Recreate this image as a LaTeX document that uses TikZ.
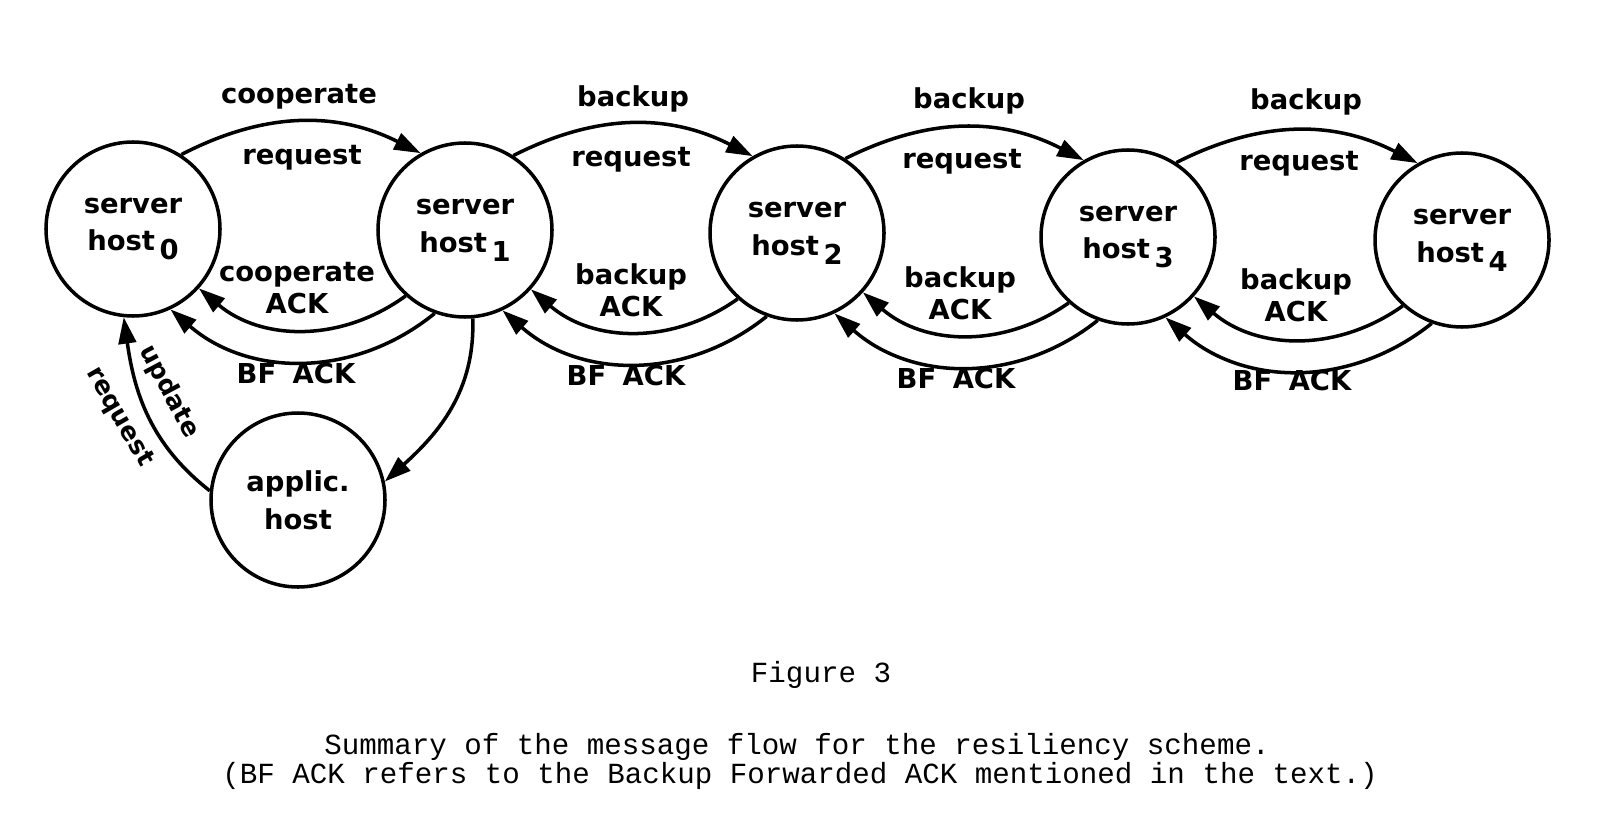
\documentclass[tikz,border=0pt]{standalone}
\usepackage{fontspec}
\setsansfont{DejaVu Sans}
\setmonofont{Liberation Mono}
\usetikzlibrary{arrows.meta}
\tikzset{
    host/.style={circle, draw, line width=1pt, minimum size=1.74cm,
                 inner sep=0pt, align=center,
                 font=\sffamily\bfseries\fontsize{7.8}{10.8}\selectfont},
    flow/.style={-{Triangle[length=7.5pt,width=5pt]}, line width=1pt},
    msg/.style={font=\sffamily\bfseries\fontsize{7.8}{9}\selectfont,
                align=center, inner sep=0pt},
    slant/.style={msg, font=\sffamily\bfseries\fontsize{7.2}{9}\selectfont},
    caption/.style={font=\ttfamily\fontsize{8.3}{10}\selectfont, inner sep=0pt},
}
\newcommand{\hostno}[1]{\,\raisebox{-0.6ex}{#1}}

\begin{document}
\begin{tikzpicture}

    \useasboundingbox (0,0) rectangle (16,-8.26);

    % hosts
    \node[host] (host0) at (1.33,-2.29) {server\\host\hostno{0}};
    \node[host] (host1) at (4.65,-2.30) {server\\host\hostno{1}};
    \node[host] (host2) at (7.97,-2.33) {server\\host\hostno{2}};
    \node[host] (host3) at (11.28,-2.37) {server\\host\hostno{3}};
    \node[host] (host4) at (14.62,-2.40) {server\\host\hostno{4}};
    \node[host] (applic) at (2.98,-5.00) {applic.\\host};

    % requests
    \draw[flow] (host0.57) to[bend left=27] (host1.120);
    \draw[flow] (host1.57) to[bend left=27] (host2.120);
    \draw[flow] (host2.57) to[bend left=27] (host3.120);
    \draw[flow] (host3.57) to[bend left=27] (host4.120);

    % acks
    \draw[flow] (host1.228) to[bend left=38] (host0.318);
    \draw[flow] (host2.228) to[bend left=38] (host1.318);
    \draw[flow] (host3.228) to[bend left=38] (host2.318);
    \draw[flow] (host4.228) to[bend left=38] (host3.318);

    % BF acks
    \draw[flow] (host1.250) to[bend left=40] (host0.295);
    \draw[flow] (host2.250) to[bend left=40] (host1.295);
    \draw[flow] (host3.250) to[bend left=40] (host2.295);
    \draw[flow] (host4.250) to[bend left=40] (host3.295);

    % application host
    \draw[flow] (host1.275) to[out=-88,in=42] (applic.12);
    \draw[flow] (applic.174) to[out=142,in=-82] (host0.264);

    % labels
    \node[msg] (coopreq) at (2.99,-0.97) {cooperate};
    \node[msg] (req01) at (3.02,-1.58) {request};
    \node[msg] (coopack) at (2.97,-2.88) {cooperate\\ACK};
    \node[msg] (bf01) at (2.96,-3.74) {BF\hspace{0.6em}ACK};
    \node[msg] (backup12) at (6.33,-0.99) {backup};
    \node[msg] (req12) at (6.31,-1.60) {request};
    \node[msg] (ack12) at (6.31,-2.90) {backup\\ACK};
    \node[msg] (bf12) at (6.26,-3.76) {BF\hspace{0.6em}ACK};
    \node[msg] (backup23) at (9.69,-1.01) {backup};
    \node[msg] (req23) at (9.62,-1.62) {request};
    \node[msg] (ack23) at (9.60,-2.93) {backup\\ACK};
    \node[msg] (bf23) at (9.56,-3.79) {BF\hspace{0.6em}ACK};
    \node[msg] (backup34) at (13.06,-1.02) {backup};
    \node[msg] (req34) at (12.99,-1.64) {request};
    \node[msg] (ack34) at (12.96,-2.95) {backup\\ACK};
    \node[msg] (bf34) at (12.92,-3.81) {BF\hspace{0.6em}ACK};
    \node[slant, rotate=-62] (update) at (1.69,-3.92) {update};
    \node[slant, rotate=-60] (updreq) at (1.19,-4.17) {request};

    % caption
    \node[caption] (figno) at (8.21,-6.75) {Figure 3};
    \node[caption] (summary) at (7.97,-7.47)
        {Summary of the message flow for the resiliency scheme.};
    \node[caption] (bfnote) at (8.00,-7.76)
        {(BF ACK refers to the Backup Forwarded ACK mentioned in the text.)};

\end{tikzpicture}
\end{document}
